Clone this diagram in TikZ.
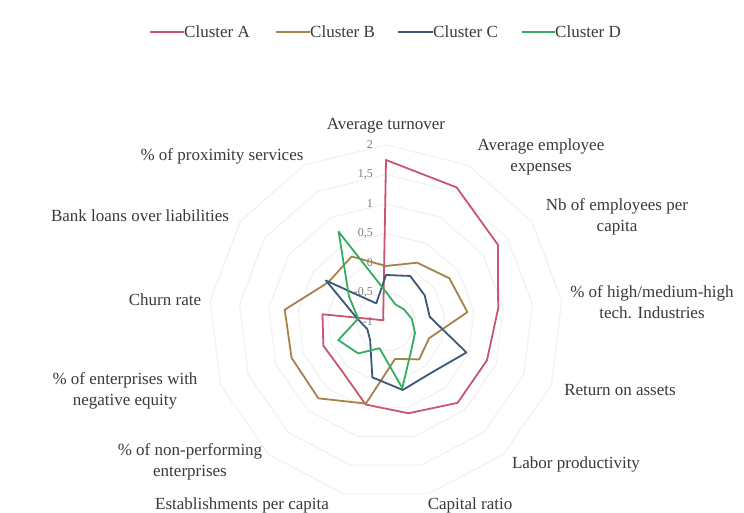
\documentclass[tikz,border=0pt]{standalone}
\usepackage{fontspec}
\setmainfont{Liberation Serif}
\definecolor{clA}{HTML}{C9566E}
\definecolor{clB}{HTML}{A3834A}
\definecolor{clC}{HTML}{3A5878}
\definecolor{clD}{HTML}{33AD62}
\definecolor{gridc}{HTML}{F0F0F0}
\definecolor{txt}{HTML}{3A3A3A}
\definecolor{ticktxt}{HTML}{7A7A7A}
\begin{document}
\begin{tikzpicture}[x=1pt,y=-1pt,
  lab/.style={font=\fontsize{17}{21}\selectfont, text=txt, inner sep=0pt, align=center},
  ticklab/.style={font=\fontsize{12}{14}\selectfont, text=ticktxt, inner sep=0pt, anchor=east},
  gridline/.style={draw=gridc, line width=1pt},
  serA/.style={draw=clA, line width=1.8pt, line join=round},
  serB/.style={draw=clB, line width=1.8pt, line join=round},
  serC/.style={draw=clC, line width=1.8pt, line join=round},
  serD/.style={draw=clD, line width=1.8pt, line join=round}]
\path[use as bounding box, fill=white] (0,0) rectangle (744,513);

% legend
\coordinate (lgA) at (150,32);
\coordinate (lgB) at (276,32);
\coordinate (lgC) at (398,32);
\coordinate (lgD) at (522,32);
\node[lab, anchor=west] (legA) at (184,32) {Cluster A};
\node[lab, anchor=west] (legB) at (310,32) {Cluster B};
\node[lab, anchor=west] (legC) at (433,32) {Cluster C};
\node[lab, anchor=west] (legD) at (555,32) {Cluster D};
\draw[serA] (lgA) -- (legA.west);
\draw[serB] (lgB) -- (legB.west);
\draw[serC] (lgC) -- (legC.west);
\draw[serD] (lgD) -- (legD.west);

% category labels
\node[lab] (cat0) at (386,126) {Average turnover};
\node[lab] (cat1) at (541,157) {Average employee\\expenses};
\node[lab] (cat2) at (617,217) {Nb of employees per\\capita};
\node[lab] (cat3) at (652,302) {\% of high/medium-high\\tech. Industries};
\node[lab] (cat4) at (620,390) {Return on assets};
\node[lab] (cat5) at (576,464) {Labor productivity};
\node[lab] (cat6) at (470,505) {Capital ratio};
\node[lab] (cat7) at (242,505) {Establishments per capita};
\node[lab] (cat8) at (190,462) {\% of non-performing\\enterprises};
\node[lab] (cat9) at (125,391) {\% of enterprises with\\negative equity};
\node[lab] (cat10) at (165,300) {Churn rate};
\node[lab] (cat11) at (140,216) {Bank loans over liabilities};
\node[lab] (cat12) at (222,156) {\% of proximity services};

\begin{scope}[shift={(386,322)}, y=1pt]
  % grid
  \foreach \r in {29.5,59,88.5,118,147.5,177}{
    \draw[gridline] (90:\r) \foreach \k in {1,...,12}{ -- ({90-\k*360/13}:\r)} -- cycle;
  }
  % tick labels
  \node[ticklab] (t6) at (-13,177) {2};
  \node[ticklab] (t5) at (-13,147.5) {1,5};
  \node[ticklab] (t4) at (-13,118) {1};
  \node[ticklab] (t3) at (-13,88.5) {0,5};
  \node[ticklab] (t2) at (-13,59) {0};
  \node[ticklab] (t1) at (-13,29.5) {-0,5};
  \node[ticklab] (t0) at (-13,0) {-1};
  % data points
  \foreach \v [count=\k from 0] in {162,152,136,113,108,108,94,85,66,67,64,3,6}
    \coordinate (A\k) at ({90-\k*360/13}:\v);
  \foreach \v [count=\k from 0] in {56,67,77,82,46,50,38,84,102,101,102,70,74}
    \coordinate (B\k) at ({90-\k*360/13}:\v);
  \foreach \v [count=\k from 0] in {47,52,47,44,86,68,70,57,24,20,29,73,21}
    \coordinate (C\k) at ({90-\k*360/13}:\v);
  \foreach \v [count=\k from 0] in {30,20,22,26,31,38,68,27,42,51,28,45,102}
    \coordinate (D\k) at ({90-\k*360/13}:\v);
  \draw[serA] (A0) \foreach \k in {1,...,12}{ -- (A\k)} -- cycle;
  \draw[serB] (B0) \foreach \k in {1,...,12}{ -- (B\k)} -- cycle;
  \draw[serC] (C0) \foreach \k in {1,...,12}{ -- (C\k)} -- cycle;
  \draw[serD] (D0) \foreach \k in {1,...,12}{ -- (D\k)} -- cycle;
\end{scope}
\end{tikzpicture}
\end{document}
